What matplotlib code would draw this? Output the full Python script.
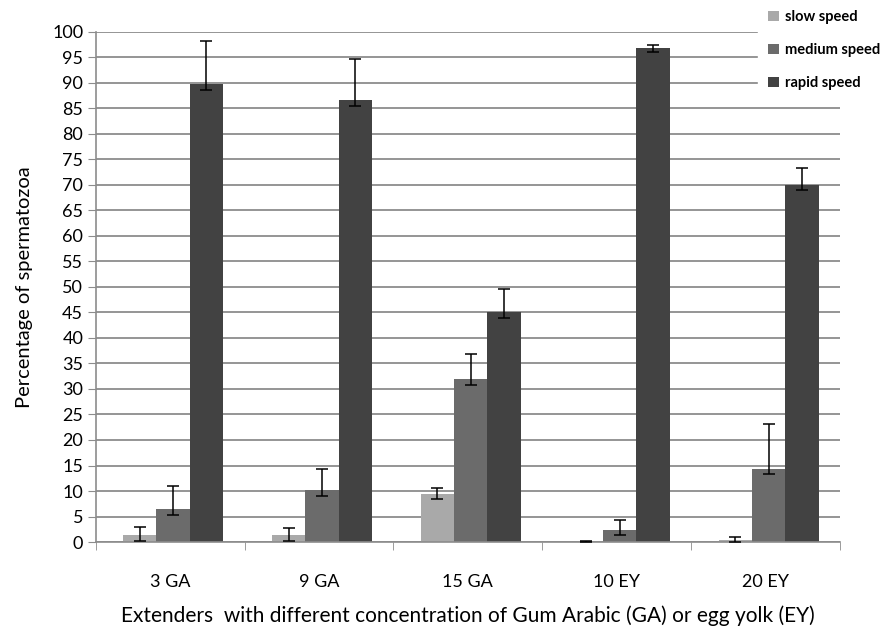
import numpy as np
import matplotlib.pyplot as plt

plt.rcParams['font.family'] = ['Lato', 'DejaVu Sans']

groups = ['3 GA', '9 GA', '15 GA', '10 EY', '20 EY']
series = ['slow speed', 'medium speed', 'rapid speed']
colors = ['#a9a9a9', '#6b6b6b', '#424242']

slow = [1.3, 1.3, 9.5, 0.1, 0.5]
slow_lo = [1.1, 1.1, 1.1, 0.05, 0.5]
slow_hi = [1.6, 1.4, 1.0, 0.05, 0.4]

medium = [6.4, 10.2, 31.9, 2.4, 14.4]
medium_lo = [1.1, 1.1, 1.1, 1.1, 1.1]
medium_hi = [4.6, 4.1, 5.0, 1.9, 8.8]

rapid = [89.8, 86.6, 45.0, 96.9, 70.0]
rapid_lo = [1.2, 1.1, 1.1, 0.9, 1.1]
rapid_hi = [8.3, 8.0, 4.5, 0.5, 3.3]

values = [slow, medium, rapid]
err_lo = [slow_lo, medium_lo, rapid_lo]
err_hi = [slow_hi, medium_hi, rapid_hi]

fig = plt.figure(figsize=(8.94, 6.34), dpi=100)
ax = fig.add_axes([0.107, 0.145, 0.8326, 0.805])

x = np.arange(len(groups))
w = 0.224
for i in range(3):
    pos = x + (i - 1) * w + 0.02
    ax.bar(pos, values[i], width=w, color=colors[i], label=series[i], zorder=2)
    ax.errorbar(pos, values[i], yerr=[err_lo[i], err_hi[i]], fmt='none',
                ecolor='black', elinewidth=1.1, capsize=4, capthick=1.1, zorder=3)

ax.set_xlim(-0.5, len(groups) - 0.5)
ax.set_ylim(0, 100)
ax.set_yticks(np.arange(0, 101, 5))
ax.yaxis.grid(True, color='#8c8c8c', linewidth=1.3, zorder=0)
ax.set_axisbelow(True)

ax.set_xticks(x)
ax.set_xticklabels(groups, fontsize=13)
ax.set_xticks(np.arange(-0.5, len(groups), 1), minor=True)
ax.tick_params(axis='x', which='major', length=0, pad=23)
ax.tick_params(axis='x', which='minor', length=6, color='#8c8c8c')
ax.tick_params(axis='y', length=6, color='#8c8c8c', labelsize=13, pad=3)

for s in ['top', 'right']:
    ax.spines[s].set_visible(False)
for s in ['left', 'bottom']:
    ax.spines[s].set_color('#8c8c8c')
    ax.spines[s].set_linewidth(1.2)

ax.set_ylabel('Percentage of spermatozoa', fontsize=14.5, labelpad=14)
ax.set_xlabel('Extenders  with different concentration of Gum Arabic (GA) or egg yolk (EY)',
              fontsize=15, labelpad=11)

leg = fig.legend(loc='upper left', bbox_to_anchor=(0.84, 1.012), frameon=True,
                 fontsize=10.5, handlelength=0.7, handleheight=0.7, handletextpad=0.4,
                 labelspacing=1.3, borderpad=0.7)
leg.get_frame().set_facecolor('white')
leg.get_frame().set_edgecolor('white')
leg.get_frame().set_alpha(1)
for t in leg.get_texts():
    t.set_fontweight('bold')

fig.savefig('out.png', dpi=100)
